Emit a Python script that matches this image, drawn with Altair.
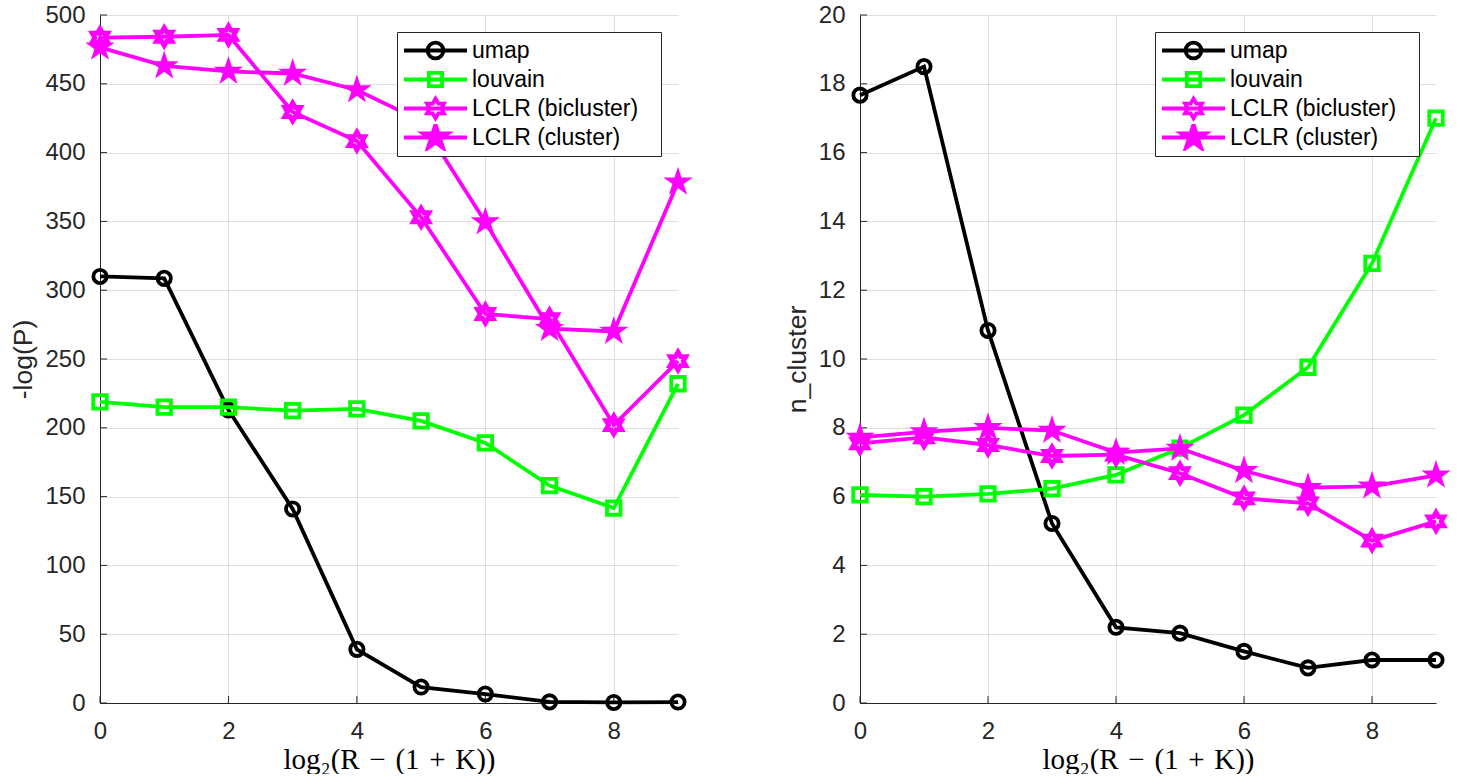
import math
import altair as alt
import pandas as pd

# ---------------- data ----------------
X = list(range(10))
SERIES = ["umap", "louvain", "LCLR (bicluster)", "LCLR (cluster)"]
COLORS = ["#000000", "#00ff00", "#ff00ff", "#ff00ff"]

P_UMAP = [310, 308.6, 213, 141, 39, 11.6, 6.5, 0.8, 0.4, 0.7]
P_LOUVAIN = [218.8, 215, 215, 212.5, 213.7, 205, 189, 158, 141.7, 232]
P_BICL = [483.5, 484.2, 485.5, 429.5, 408.4, 353, 282.7, 279, 202, 248.5]
P_CL = [476.5, 463, 459, 457.5, 445.5, 423, 349.5, 272, 270, 378.5]

N_UMAP = [17.67, 18.5, 10.83, 5.22, 2.2, 2.03, 1.5, 1.02, 1.25, 1.25]
N_LOUVAIN = [6.05, 6.0, 6.08, 6.23, 6.63, 7.41, 8.37, 9.76, 12.78, 17.0]
N_BICL = [7.55, 7.72, 7.5, 7.18, 7.22, 6.68, 5.95, 5.8, 4.72, 5.28]
N_CL = [7.72, 7.88, 8.0, 7.92, 7.28, 7.4, 6.75, 6.26, 6.3, 6.62]

X_TICKS = [0, 2, 4, 6, 8]
P_TICKS = list(range(0, 501, 50))
N_TICKS = list(range(0, 21, 2))


def long_df(cols):
    rows = []
    for s, vals in zip(SERIES, cols):
        for x, y in zip(X, vals):
            rows.append({"x": x, "y": y, "series": s})
    return pd.DataFrame(rows)


DF_P = long_df([P_UMAP, P_LOUVAIN, P_BICL, P_CL])
DF_N = long_df([N_UMAP, N_LOUVAIN, N_BICL, N_CL])

# ---------------- marker shapes ----------------
def star(n, ro, ri, s=1.0):
    pts = []
    for k in range(2 * n):
        r = ro if k % 2 == 0 else ri
        a = math.radians(-90 + k * 180 / n)
        pts.append((s * r * math.cos(a), s * r * math.sin(a)))
    return "M" + "L".join(f"{x:.4f},{y:.4f}" for x, y in pts) + "Z"


def circle(r):
    return f"M{-r},0A{r},{r} 0 1,0 {r},0A{r},{r} 0 1,0 {-r},0Z"


def square(r):
    return f"M{-r},{-r}H{r}V{r}H{-r}Z"


HEX = star(6, 1.0, 1 / math.sqrt(3))
PENT = star(5, 1.0, 0.382)
LINE = "M-1,0H1"
LEG_SHAPES = [
    LINE + circle(0.25),
    LINE + square(0.21),
    LINE + star(6, 1.0, 1 / math.sqrt(3), 0.31),
    LINE + star(5, 1.0, 0.382, 0.42),
]
LEG_FILLS = ["transparent", "transparent", "transparent", "#ff00ff"]

LW = 3.8
MARKERS = [
    dict(shape="circle", size=177, filled=False, strokeWidth=LW),
    dict(shape="square", size=182, filled=False, strokeWidth=LW),
    dict(shape=HEX, size=324, filled=False, strokeWidth=4.8),
    dict(shape=PENT, size=676, filled=True, strokeWidth=1.5),
]

SERIF = "Liberation Serif, DejaVu Serif, serif"
SP = "\u2004"
XTITLE = f"log₂(R{SP}−{SP}(1{SP}+{SP}K))"
PAD = "\u2800"


def panel(df, ymax, yticks, ytitle, width, height):
    xscale = alt.Scale(domain=[0, 9], nice=False, zero=False)
    yscale = alt.Scale(domain=[0, ymax], nice=False, zero=False)

    x_main = alt.X("x:Q", scale=xscale, axis=alt.Axis(
        orient="bottom", values=X_TICKS, grid=True, ticks=False, tickSize=0,
        labelFlush=False, labelPadding=16, title=XTITLE, titleFont=SERIF,
        titleFontSize=29, titleColor="#000000", titlePadding=2,
        titleFontWeight="normal", format="d"))
    y_main = alt.Y("y:Q", scale=yscale, axis=alt.Axis(
        orient="left", values=yticks, grid=True, ticks=False, tickSize=0,
        labelFlush=False, labelPadding=15, title=ytitle, titlePadding=7,
        titleFontSize=26.5, titleColor="#262626", titleFontWeight="normal",
        format="d"))
    x_none = alt.X("x:Q", scale=xscale, axis=None)
    y_none = alt.Y("y:Q", scale=yscale, axis=None)

    # inward tick marks (MATLAB style) drawn through the scales
    xt = alt.Chart(pd.DataFrame({"v": X_TICKS})).mark_rule(
        color="#262626", strokeWidth=1).encode(
        x=alt.X("v:Q", scale=xscale, axis=None),
        y=alt.value(height), y2=alt.value(height - 7))
    yt = alt.Chart(pd.DataFrame({"v": yticks})).mark_rule(
        color="#262626", strokeWidth=1).encode(
        y=alt.Y("v:Q", scale=yscale, axis=None),
        x=alt.value(0), x2=alt.value(7))

    base = alt.Chart(df)
    layers = [xt, yt]
    for i, (s, c, m) in enumerate(zip(SERIES, COLORS, MARKERS)):
        xe, ye = (x_main, y_main) if i == 0 else (x_none, y_none)
        sub = base.transform_filter(alt.datum.series == s)
        layers.append(sub.mark_line(color=c, strokeWidth=LW).encode(x=xe, y=ye))
        pkw = dict(shape=m["shape"], size=m["size"], filled=m["filled"],
                   strokeWidth=m["strokeWidth"], opacity=1, color=c)
        if m["filled"]:
            pkw["stroke"] = c
            pkw["fill"] = c
        layers.append(sub.mark_point(**pkw).encode(x=x_none, y=y_none))

    leg = alt.Legend(title=None, orient="top-right", offset=17,
                     labelExpr=f"datum.label + '{PAD}'")
    legend_layer = base.transform_filter("datum.x < -1000").mark_point(
        opacity=1, strokeWidth=LW, size=3969).encode(
        x=x_none, y=y_none,
        stroke=alt.Stroke("series:N", scale=alt.Scale(domain=SERIES, range=COLORS), legend=leg),
        fill=alt.Fill("series:N", scale=alt.Scale(domain=SERIES, range=LEG_FILLS), legend=leg),
        shape=alt.Shape("series:N", scale=alt.Scale(domain=SERIES, range=LEG_SHAPES), legend=leg),
    )
    layers.append(legend_layer)
    return alt.layer(*layers).resolve_axis(x="independent", y="independent").properties(
        width=width, height=height)


left = panel(DF_P, 500, P_TICKS, "-log(P)", 578, 688)
right = panel(DF_N, 20, N_TICKS, "n_cluster", 576, 688)

chart = alt.hconcat(left, right, spacing=88).resolve_scale(
    stroke="independent", fill="independent", shape="independent"
).resolve_legend(
    stroke="independent", fill="independent", shape="independent"
).properties(
    padding={"left": 10, "top": 3, "right": 0, "bottom": 0},
    background="#ffffff",
).configure_view(stroke=None).configure_axis(
    labelFont="Liberation Sans", labelFontSize=24, labelColor="#262626",
    titleFont="Liberation Sans", domainColor="#262626", domainWidth=1,
    gridColor="#dfdfdf", gridWidth=1, tickColor="#262626", tickWidth=1,
).configure_legend(
    padding=5, strokeColor="#262626", fillColor="#ffffff",
    labelFontSize=23, labelFont="Liberation Sans", labelColor="#000000",
    symbolStrokeWidth=LW, symbolSize=3969, clipHeight=27, rowPadding=2,
    symbolOffset=0, labelOffset=3, cornerRadius=0, labelLimit=500,
)

chart.save("out.html", embed_options={"renderer": "svg", "actions": False})
